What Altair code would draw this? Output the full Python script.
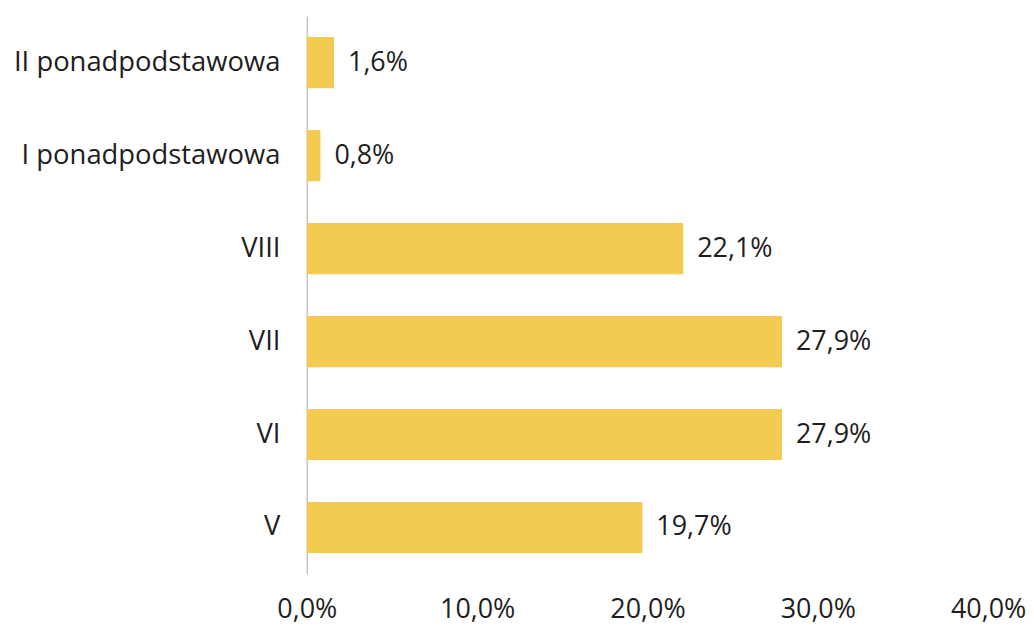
import altair as alt
import pandas as pd

categories = ["II ponadpodstawowa", "I ponadpodstawowa", "VIII", "VII", "VI", "V"]
values = [1.6, 0.8, 22.1, 27.9, 27.9, 19.7]
x_ticks = [0, 10, 20, 30, 40]

df = pd.DataFrame({"cat": categories, "val": values})
FONT = "Open Sans"
COLOR = "#F3CA52"
TXT = "#1e1e1e"
FS = 27

x = alt.X("val:Q", scale=alt.Scale(domain=[0, 40], nice=False),
          axis=alt.Axis(values=x_ticks, title=None, grid=False, domain=False, ticks=False,
                        labelExpr="replace(format(datum.value, '.1f'), '.', ',') + '%'",
                        labelFontSize=FS, labelFont=FONT, labelColor=TXT,
                        labelPadding=23, labelFlush=False))
y = alt.Y("cat:N", sort=categories,
          scale=alt.Scale(paddingInner=0.45, paddingOuter=0.225),
          axis=alt.Axis(title=None, ticks=False, domain=True, domainColor="#C4C4C4",
                        domainWidth=1.5, labelFontSize=27.5, labelFont=FONT,
                        labelColor=TXT, labelPadding=27, labelLimit=400))

bars = alt.Chart(df).mark_bar(color=COLOR).encode(x=x, y=y)
labels = alt.Chart(df).transform_calculate(
    lbl="replace(format(datum.val, '.1f'), '.', ',') + '%'"
).mark_text(align="left", baseline="middle", dx=14, fontSize=FS, font=FONT,
            color=TXT).encode(x=x, y=y, text="lbl:N")

chart = (bars + labels).properties(
    width=684, height=560,
    autosize=alt.AutoSizeParams(type="none"),
    padding={"left": 300, "top": 7, "right": 38, "bottom": 54},
).configure(background="white").configure_view(stroke="transparent", strokeWidth=0)

chart.save("out.html", embed_options={"renderer": "svg", "actions": False})
